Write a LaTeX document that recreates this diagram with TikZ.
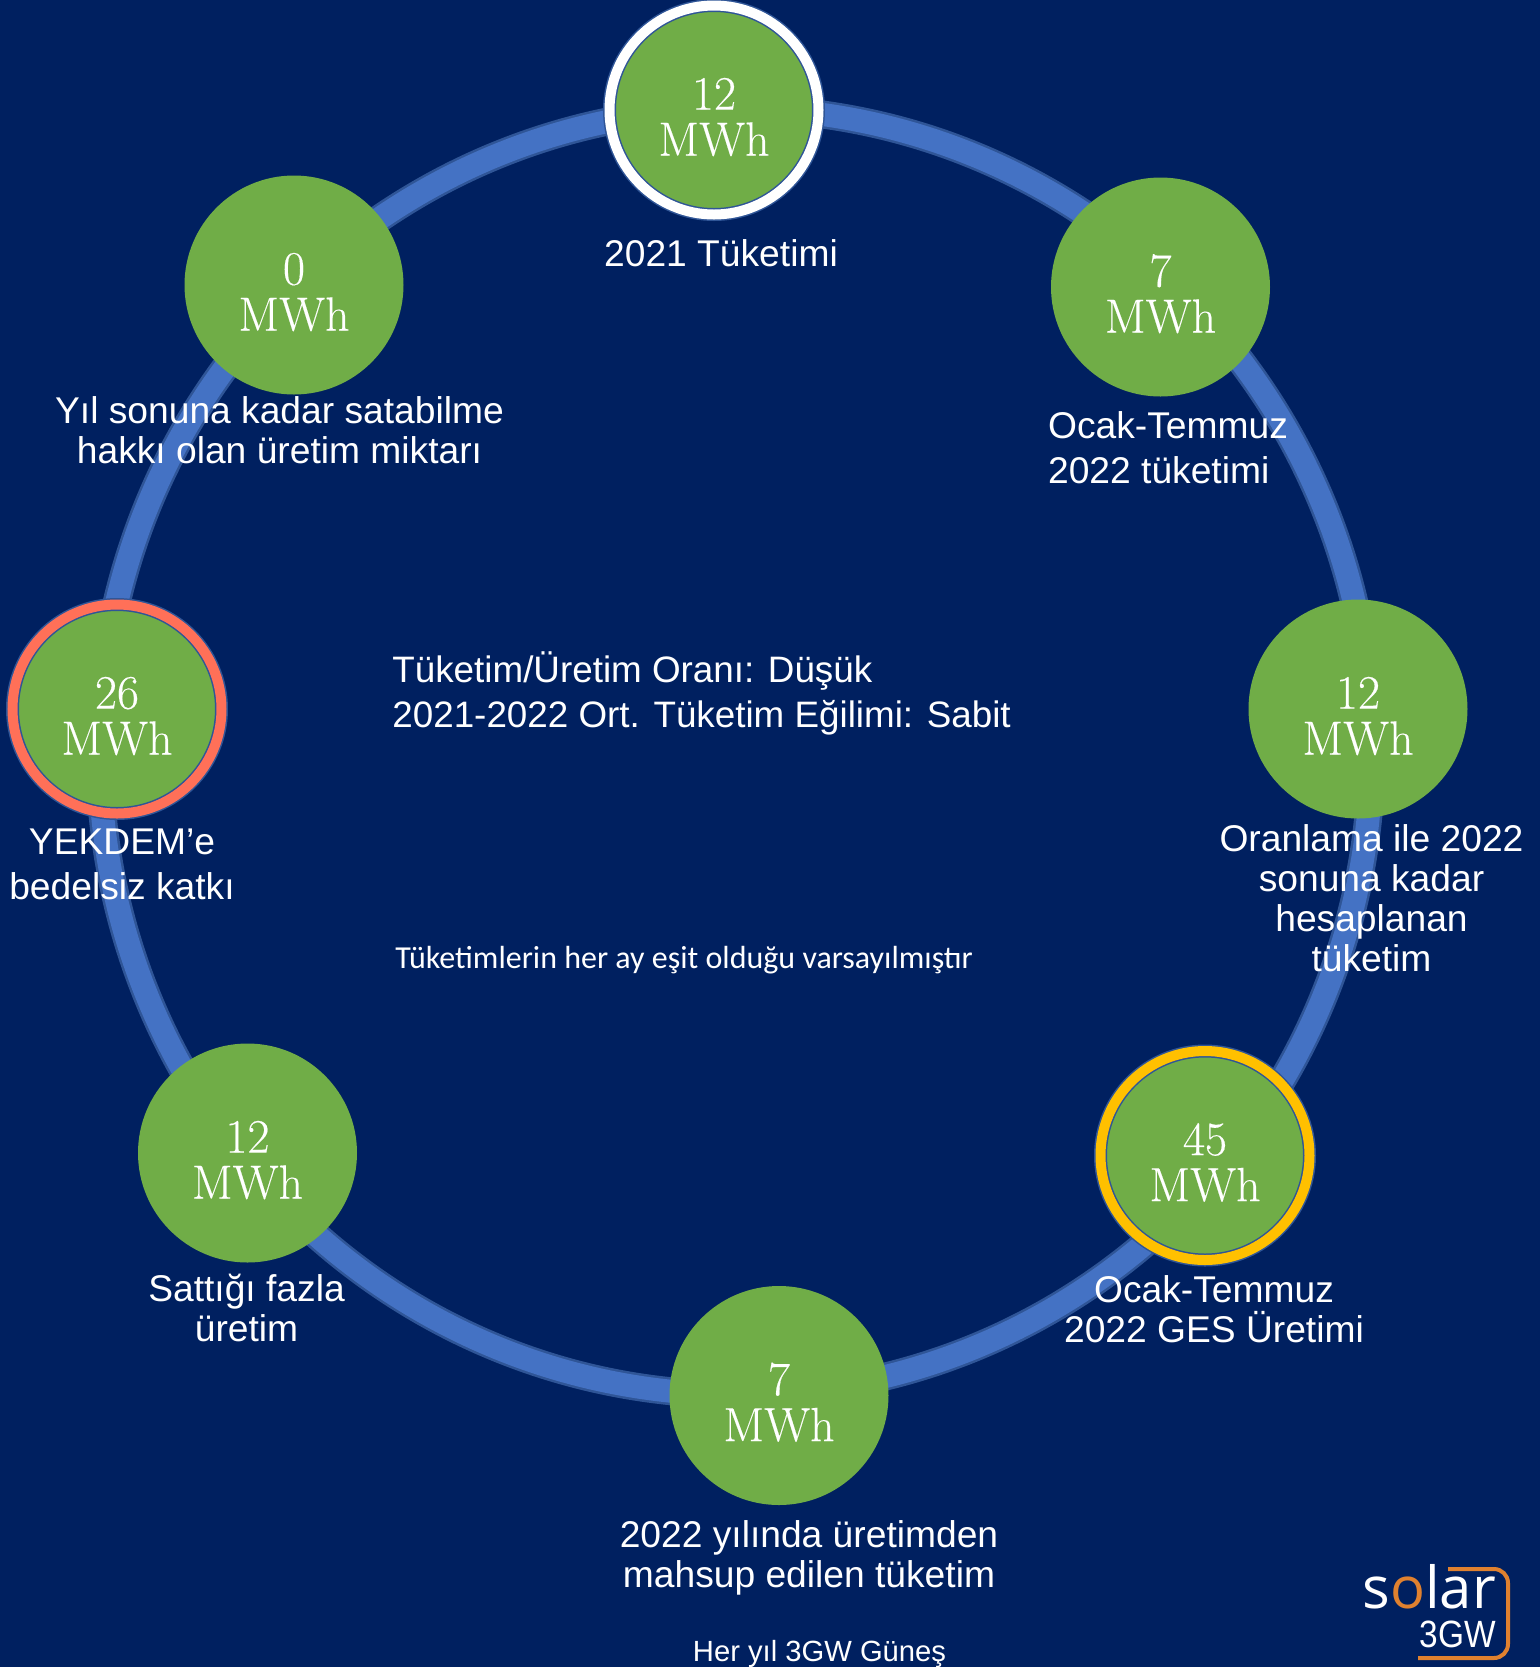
\documentclass[tikz,border=0pt]{standalone}
\usepackage{fontspec}
\newfontfamily\labelfont{Liberation Sans}
\newfontfamily\notefont{Carlito}
\newfontfamily\logofont{Open Sans}
\newfontfamily\logosubfont[FakeStretch=0.88]{Liberation Sans}
\newfontfamily\mwhfont[FakeBold=.3]{Latin Modern Roman}
\definecolor{navy}{HTML}{002060}
\definecolor{leaf}{HTML}{70AD47}
\definecolor{ringblue}{HTML}{4472C4}
\definecolor{edgeblue}{HTML}{2F5597}
\definecolor{coral}{HTML}{FF7058}
\definecolor{amber}{HTML}{FFC000}
\definecolor{solarorange}{HTML}{E0812F}
\tikzset{
  mwh/.style={circle,fill=leaf,inner sep=0pt,outer sep=0pt,text=white,align=center,minimum size=109.5pt,
    text height=46pt,font=\mwhfont\fontsize{24}{23}\selectfont},
  ringed/.style={mwh,draw=edgeblue,line width=.75pt,double=#1,double distance=5pt,minimum size=104.5pt},
  tag/.style={inner sep=0pt,text=white,anchor=base,align=center,font=\labelfont\fontsize{18.6}{20}\selectfont},
  widetag/.style={tag,font=\labelfont\fontsize{18.6}{22.5}\selectfont}
}
\begin{document}
\begin{tikzpicture}[x=.5pt,y=-.5pt]
\useasboundingbox[fill=navy] (0,0) rectangle (1540,1667);
\draw[edgeblue,line width=14pt] (735.5,751.5) ellipse (636 and 643);
\draw[ringblue,line width=11.5pt] (735.5,751.5) ellipse (636 and 643);
\node[ringed=white] (start) at (714,110) {12\\MWh};
\node[mwh] (janjul) at (1160.5,287) {7\\MWh};
\node[mwh] (yearend) at (1358,709) {12\\MWh};
\node[ringed=amber] (solar) at (1205,1155.5) {45\\MWh};
\node[mwh] (offset) at (779,1395.5) {7\\MWh};
\node[mwh] (sold) at (247.5,1153) {12\\MWh};
\node[ringed=coral] (yekdem) at (117,709) {26\\MWh};
\node[mwh] (rights) at (294,285) {0\\MWh};
\node[tag] (startlabel) at (721,266) {2021 Tüketimi};
\node[tag] (rightslabel) at (279.5,463) {Yıl sonuna kadar satabilme\\hakkı olan üretim miktarı};
\node[widetag,align=left] (janjullabel) at (1168,483) {Ocak-Temmuz\\2022 tüketimi};
\node[tag] (yearendlabel) at (1371.5,971.5) {Oranlama ile 2022\\sonuna kadar\\hesaplanan\\tüketim};
\node[widetag] (yekdemlabel) at (122,899) {YEKDEM’e\\bedelsiz katkı};
\node[tag] (soldlabel) at (246.5,1341.5) {Sattığı fazla\\üretim};
\node[tag] (solarlabel) at (1214,1342) {Ocak-Temmuz\\2022 GES Üretimi};
\node[tag] (offsetlabel) at (809,1587) {2022 yılında üretimden\\mahsup edilen tüketim};
\node[inner sep=0pt,text=white,align=left,anchor=base west,font=\labelfont\fontsize{18.4}{22.5}\selectfont] (ratio) at (392,727) {Tüketim/Üretim Oranı: Düşük\\2021-2022 Ort. Tüketim Eğilimi: Sabit};
\node[inner sep=0pt,text=white,anchor=base west,font=\notefont\fontsize{16}{18}\selectfont] (note) at (395,968) {Tüketimlerin her ay eşit olduğu varsayılmıştır};
\node[inner sep=0pt,text=white,anchor=base,font=\labelfont\fontsize{14.6}{18}\selectfont] (motto) at (819.5,1661) {Her yıl 3GW Güneş};
\node[inner sep=0pt,text=white,anchor=base west,font=\logofont\fontsize{29}{30}\selectfont] (logo) at (1362,1608) {s\textcolor{solarorange}{o}lar};
\node[inner sep=0pt,text=white,anchor=base east,font=\logosubfont\fontsize{19}{20}\selectfont] (logosub) at (1496,1647) {3GW};
\draw[solarorange,line width=2pt,rounded corners=7pt] (1448,1569) -- (1508,1569) -- (1508,1658) -- (1418,1658);
\end{tikzpicture}
\end{document}
